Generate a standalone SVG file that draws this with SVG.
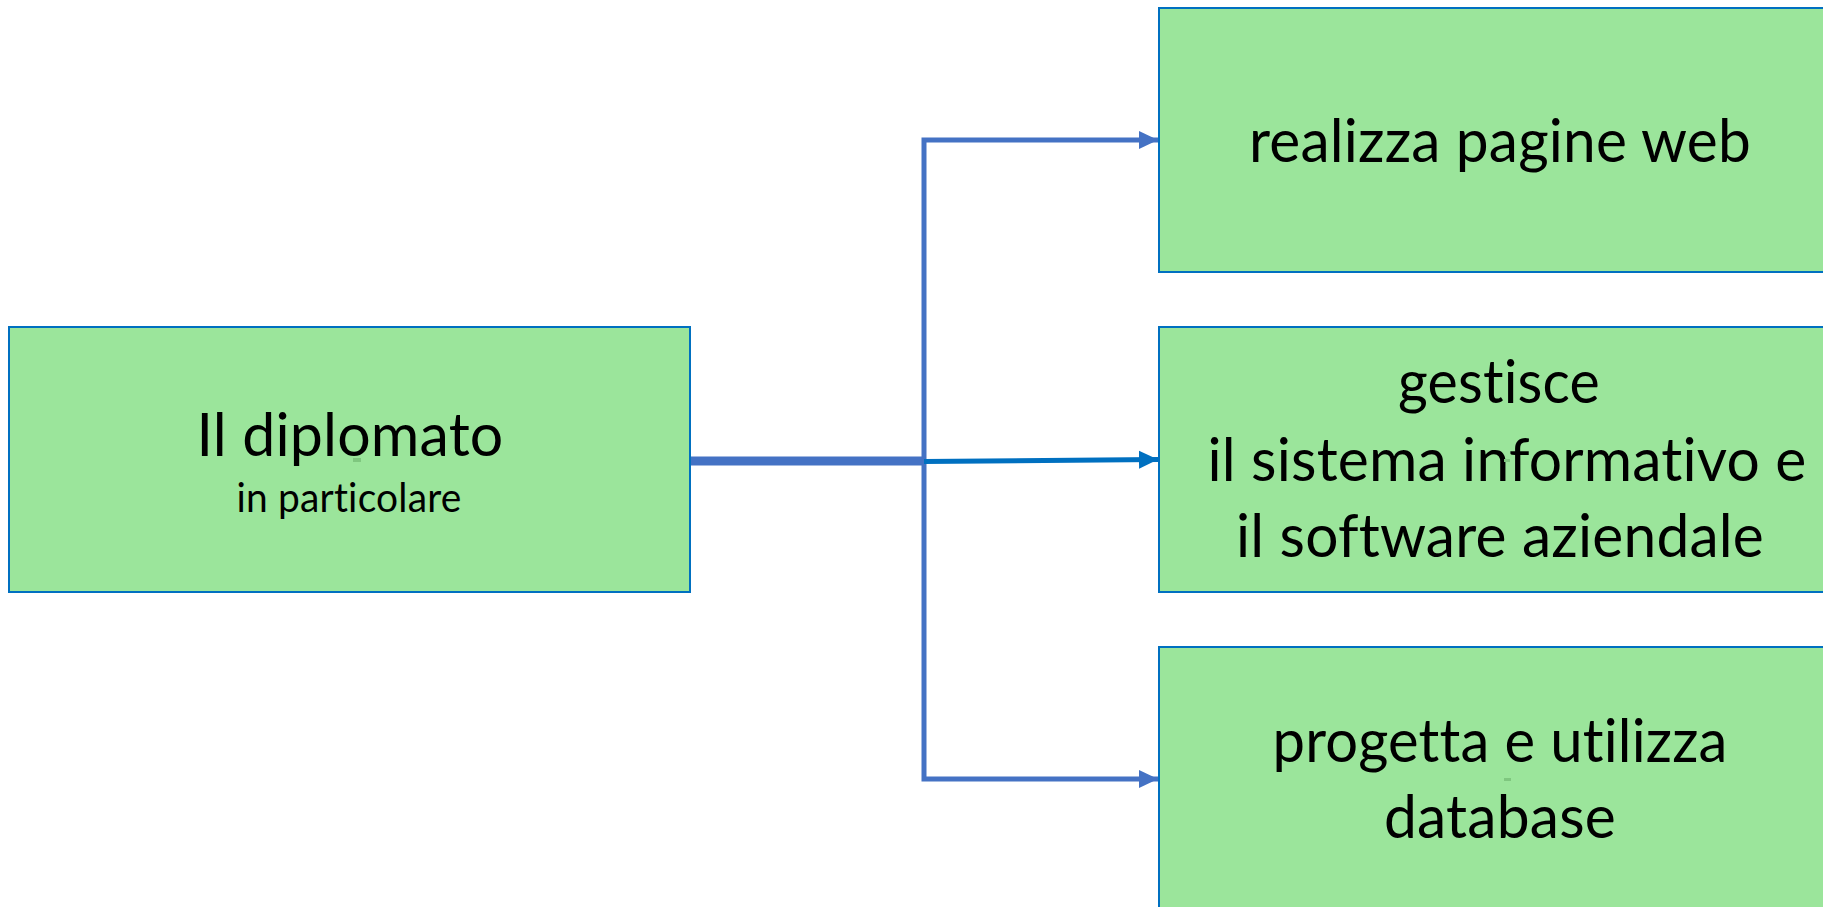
<svg xmlns="http://www.w3.org/2000/svg" width="1823" height="907" viewBox="0 0 1823 907">
<style>
.big{font-family:Lato,"Open Sans","Liberation Sans",sans-serif;font-size:60px;fill:#000;text-anchor:middle;font-variant-ligatures:none;font-feature-settings:"liga" 0,"clig" 0,"dlig" 0,"calt" 0;letter-spacing:0.2px}
.small{font-family:Lato,"Open Sans","Liberation Sans",sans-serif;font-size:40px;fill:#000;text-anchor:middle;font-variant-ligatures:none;font-feature-settings:"liga" 0,"clig" 0,"dlig" 0,"calt" 0;letter-spacing:0.2px}
.box{fill:#9BE59B;stroke:#0070C0;stroke-width:2}
.mark{fill:#7FC77F}
.conn{fill:none;stroke:#4472C4;stroke-width:5}
</style>
<defs>
<marker id="ah1" markerUnits="userSpaceOnUse" markerWidth="20" markerHeight="20" viewBox="0 0 20 20" refX="19" refY="10" orient="auto">
<path d="M0,1 L19,10 L0,19 Z" fill="#4472C4"/>
</marker>
<marker id="ah2" markerUnits="userSpaceOnUse" markerWidth="20" markerHeight="20" viewBox="0 0 20 20" refX="19" refY="10" orient="auto">
<path d="M0,1 L19,10 L0,19 Z" fill="#0070C0"/>
</marker>
</defs>
<rect width="1823" height="907" fill="#fff"/>
<g id="connectors">
<path class="conn" d="M924,461 V140 H1158" marker-end="url(#ah1)"/>
<path class="conn" d="M924,461 V779 H1158" marker-end="url(#ah1)"/>
<path d="M690,461 H924" fill="none" stroke="#4472C4" stroke-width="9"/>
<path d="M924,461.5 L1158,459.5" fill="none" stroke="#0070C0" stroke-width="5" marker-end="url(#ah2)"/>
</g>
<g id="node-diplomato">
<rect class="box" x="9" y="327" width="681" height="265"/>
<text class="big" x="350" y="456" textLength="307" lengthAdjust="spacingAndGlyphs">Il diplomato</text>
<text class="small" x="349" y="512" textLength="225" lengthAdjust="spacingAndGlyphs">in particolare</text>
<rect class="mark" x="353" y="458" width="8" height="4"/>
</g>
<g id="node-web">
<rect class="box" x="1159" y="8" width="682" height="264"/>
<text class="big" x="1500" y="162" textLength="502" lengthAdjust="spacingAndGlyphs">realizza pagine web</text>
</g>
<g id="node-sistema">
<rect class="box" x="1159" y="327" width="682" height="265"/>
<text class="big" x="1499" y="403" textLength="202" lengthAdjust="spacingAndGlyphs">gestisce</text>
<text class="big" x="1507" y="481" textLength="599" lengthAdjust="spacingAndGlyphs">il sistema informativo e</text>
<text class="big" x="1500" y="557" textLength="528" lengthAdjust="spacingAndGlyphs">il software aziendale</text>
<rect class="mark" x="1504" y="459" width="6" height="3"/>
</g>
<g id="node-database">
<rect class="box" x="1159" y="647" width="682" height="265"/>
<text class="big" x="1500" y="762" textLength="455" lengthAdjust="spacingAndGlyphs">progetta e utilizza</text>
<text class="big" x="1500" y="838" textLength="232" lengthAdjust="spacingAndGlyphs">database</text>
<rect class="mark" x="1504" y="778" width="7" height="3"/>
</g>
</svg>
